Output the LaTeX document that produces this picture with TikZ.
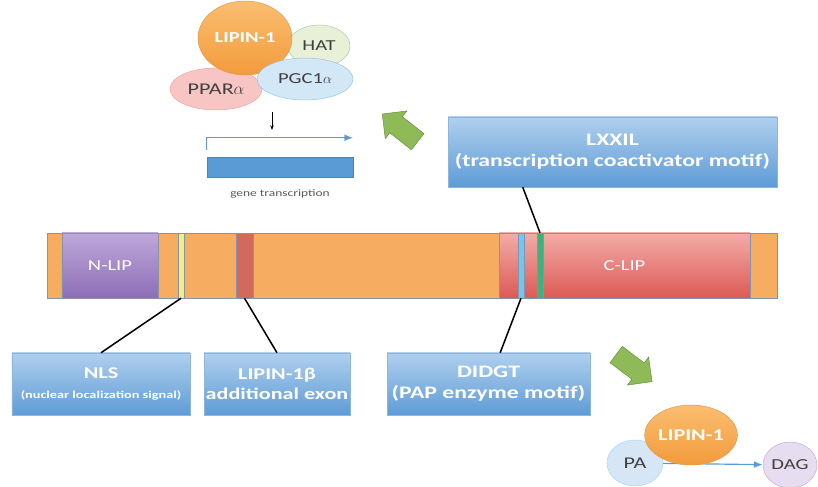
\documentclass[tikz,border=0pt]{standalone}
\usepackage{fontspec}
\setmainfont{Carlito}[FakeStretch=1.35]
\usetikzlibrary{positioning,arrows.meta,shapes.geometric,shapes.arrows}

\definecolor{boxtop}{HTML}{B0CFEE}
\definecolor{boxbot}{HTML}{5E9CD6}
\definecolor{boxline}{HTML}{8DB6DE}
\definecolor{barorange}{HTML}{F6AD61}
\definecolor{barline}{HTML}{8494AE}
\definecolor{nliptop}{HTML}{BEA8D9}
\definecolor{nlipbot}{HTML}{8D6EB6}
\definecolor{cliptop}{HTML}{F3ACA8}
\definecolor{clipbot}{HTML}{DC5A55}
\definecolor{nlscol}{HTML}{F2F07C}
\definecolor{exoncol}{HTML}{D06A5C}
\definecolor{papcol}{HTML}{72C8EC}
\definecolor{lxxcol}{HTML}{3FB07F}
\definecolor{arrowgreen}{HTML}{8EBB57}
\definecolor{lipintop}{HTML}{FBBE70}
\definecolor{lipinbot}{HTML}{F29B3C}
\definecolor{genecol}{HTML}{5B9BD5}
\definecolor{hatcol}{HTML}{E8F0D8}
\definecolor{pgccol}{HTML}{D2E8F6}
\definecolor{pparcol}{HTML}{F7C6C4}
\definecolor{pacol}{HTML}{D6E6F5}
\definecolor{dagcol}{HTML}{E6DEF0}

\begin{document}
\begin{tikzpicture}[x=0.03cm, y=-0.03cm, >=Latex,
  motif/.style={rectangle, draw=boxline, top color=boxtop, bottom color=boxbot,
    text=white, font=\bfseries\fontsize{14}{17}\selectfont, align=center, inner sep=0pt},
  segment/.style={rectangle, draw=barline, inner sep=0pt, minimum height=1.95cm,
    text=white, font=\fontsize{13}{16}\selectfont},
  band/.style={rectangle, draw=barline, inner sep=0pt, minimum height=1.95cm, minimum width=0.18cm},
  blob/.style={ellipse, inner sep=0pt, font=\fontsize{13}{15}\selectfont, text=black!75},
  bigarrow/.style={single arrow, fill=arrowgreen, draw=arrowgreen!75!black, inner sep=0.3cm,
    minimum height=1.35cm, single arrow head extend=0.22cm},
  pin/.style={line width=1.3pt, black}]
  \useasboundingbox (0,0) rectangle (818,487);

  % Protein bar
  \node[segment, fill=barorange, minimum width=21.9cm] (bar) at (412,265.5) {};
  \node[segment, top color=nliptop, bottom color=nlipbot, minimum width=2.88cm] (nlip) at (110,265.5) {N-LIP};
  \node[segment, top color=cliptop, bottom color=clipbot, minimum width=7.53cm] (clip) at (624.5,265.5) {C-LIP};
  \node[band, fill=nlscol] (nlsband) at (181,265.5) {};
  \node[band, fill=exoncol, minimum width=0.51cm] (exonband) at (244.5,265.5) {};
  \node[band, fill=papcol] (papband) at (521,265.5) {};
  \node[band, fill=lxxcol] (lxxband) at (540,265.5) {};

  % Motif boxes
  \node[motif, minimum width=9.87cm, minimum height=2.1cm, font=\bfseries\fontsize{15}{18}\selectfont] (lxxil) at (612.5,152)
    {LXXIL\\(transcription coactivator motif)};
  \node[motif, minimum width=5.34cm, minimum height=1.86cm] (nls) at (101,384)
    {NLS\\{\fontsize{9}{12}\selectfont(nuclear localization signal)}};
  \node[motif, minimum width=4.38cm, minimum height=1.86cm] (beta) at (277,384)
    {LIPIN-1β\\additional exon};
  \node[motif, minimum width=6.09cm, minimum height=1.86cm, font=\bfseries\fontsize{15}{18}\selectfont] (didgt) at (488.5,384)
    {DIDGT\\(PAP enzyme motif)};

  % Pointers
  \draw[pin] (nls.north) -- (nlsband.south);
  \draw[pin] (beta.north) -- (exonband.south);
  \draw[pin] ([xshift=0.35cm]didgt.north) -- (papband.south);
  \draw[pin] ([xshift=2.25cm]lxxil.south west) -- (lxxband.north);

  % Transcription complex
  \node[blob, fill=hatcol, draw=green!40!black!35, minimum width=1.86cm, minimum height=1.26cm] (hat) at (319,46) {HAT};
  \node[blob, fill=pparcol, draw=red!40, minimum width=2.76cm, minimum height=1.26cm, font=\fontsize{14}{16}\selectfont] (ppar) at (216,89) {PPAR$\alpha$};
  \node[blob, top color=lipintop, bottom color=lipinbot, draw=orange!85!black!70, minimum width=2.82cm, minimum height=2.22cm,
    text=white, font=\bfseries\fontsize{13}{15}\selectfont] (lipin) at (245,38) {LIPIN-1};
  \node[blob, fill=pgccol, draw=cyan!60!blue!40, minimum width=2.88cm, minimum height=1.26cm] (pgc) at (305,79) {PGC1$\alpha$};

  % Gene
  \node[rectangle, draw=genecol!85!black, fill=genecol, minimum width=4.38cm, minimum height=0.6cm, inner sep=0pt] (gene) at (280,167) {};
  \node[below=0.25cm of gene, font=\fontsize{8.5}{10}\selectfont, text=black!65] (genelabel) {gene transcription};
  \draw[->, genecol, line width=1pt] ([yshift=0.2cm]gene.north west) |- ([yshift=0.57cm]gene.north east);
  \coordinate (down1) at (272,112);
  \coordinate (down2) at (272,130);
  \draw[->, >={Stealth[length=4pt]}, line width=0.7pt] (down1) -- (down2);

  % PAP reaction
  \node[blob, fill=pacol, draw=blue!35!cyan!40, minimum width=1.68cm, minimum height=1.38cm, font=\fontsize{14}{16}\selectfont] (pa) at (635,463) {PA};
  \node[blob, fill=dagcol, draw=violet!35, minimum width=1.62cm, minimum height=1.38cm] (dag) at (790,465) {DAG};
  \draw[->, genecol, line width=1pt] (pa) -- (dag);
  \node[blob, top color=lipintop, bottom color=lipinbot, draw=orange!85!black!70, minimum width=2.34cm, minimum height=1.8cm,
    text=white, font=\bfseries\fontsize{14}{15}\selectfont] (lipinpap) at (691,435) {LIPIN-1};

  % Green arrows
  \node[bigarrow, rotate=142] (uparrow) at (404,131) {};
  \node[bigarrow, rotate=-37] (downarrow) at (630,365) {};
\end{tikzpicture}
\end{document}
